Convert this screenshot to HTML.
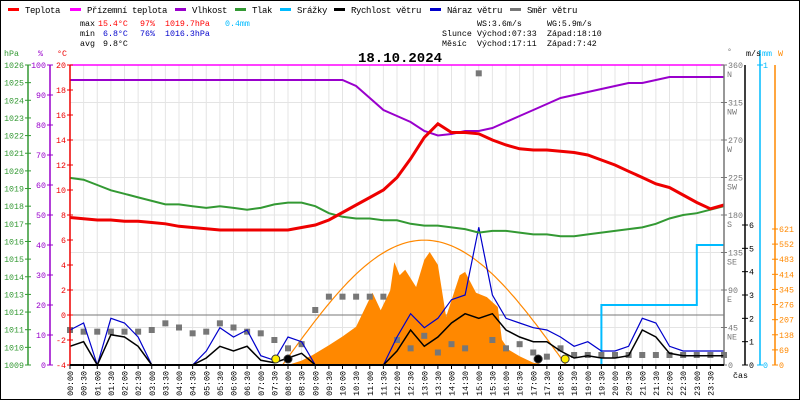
<!DOCTYPE html>
<html><head><meta charset="utf-8"><style>
body{margin:0;background:#fff}
svg{display:block;font-family:"Liberation Mono",monospace}
</style></head><body>
<svg id="c" width="800" height="400" viewBox="0 0 800 400">
<rect x="0.5" y="0.5" width="799" height="399" fill="#fff" stroke="#000"/>
<g id="legend" font-size="9"></g>
<g font-size="8.3">
<text x="80" y="26">max</text><text x="98" y="26" fill="#f00">15.4°C</text><text x="140" y="26" fill="#f00">97%</text><text x="165" y="26" fill="#f00">1019.7hPa</text><text x="225" y="26" fill="#0bf">0.4mm</text>
<text x="80" y="36">min</text><text x="103" y="36" fill="#00c">6.8°C</text><text x="140" y="36" fill="#00c">76%</text><text x="165" y="36" fill="#00c">1016.3hPa</text>
<text x="80" y="46">avg</text><text x="103" y="46">9.8°C</text>
<text x="477" y="26">WS:3.6m/s</text><text x="547" y="26">WG:5.9m/s</text>
<text x="442" y="36">Slunce</text><text x="477" y="36">Východ:07:33</text><text x="547" y="36">Západ:18:10</text>
<text x="442" y="46">Měsíc</text><text x="477" y="46">Východ:17:11</text><text x="547" y="46">Západ:7:42</text>
</g>
<text x="400" y="62" font-size="14" font-weight="bold" text-anchor="middle">18.10.2024</text>
<g id="grid"></g>
<g id="plot"></g>
<g id="axes" font-size="8.3"></g>
</svg>
<script>
const NS="http://www.w3.org/2000/svg";
const hours=[0,0.5,1,1.5,2,2.5,3,3.5,4,4.5,5,5.5,6,6.5,7,7.5,8,8.5,9,9.5,10,10.5,11,11.5,12,12.5,13,13.5,14,14.5,15,15.5,16,16.5,17,17.5,18,18.5,19,19.5,20,20.5,21,21.5,22,22.5,23,23.5,24];
const temperature=[7.8,7.7,7.6,7.6,7.5,7.5,7.4,7.3,7.1,7.0,6.9,6.8,6.8,6.8,6.8,6.8,6.8,7.0,7.2,7.6,8.2,8.8,9.4,10.0,11.0,12.5,14.2,15.3,14.6,14.6,14.5,14.0,13.6,13.3,13.2,13.2,13.1,13.0,12.8,12.4,12.0,11.5,11.0,10.5,10.2,9.6,9.0,8.5,8.8];
const humidity=[95,95,95,95,95,95,95,95,95,95,95,95,95,95,95,95,95,95,95,95,95,93,89,85,83,81,78,76.5,77,78,78,79,81,83,85,87,89,90,91,92,93,94,94,95,96,96,96,96,96];
const pressure=[1019.6,1019.5,1019.2,1018.9,1018.7,1018.5,1018.3,1018.1,1018.1,1018.0,1017.9,1018.0,1017.9,1017.8,1017.9,1018.1,1018.2,1018.2,1018.0,1017.6,1017.4,1017.3,1017.3,1017.2,1017.2,1017.0,1016.9,1016.9,1016.8,1016.7,1016.5,1016.6,1016.6,1016.5,1016.4,1016.4,1016.3,1016.3,1016.4,1016.5,1016.6,1016.7,1016.8,1017.0,1017.3,1017.5,1017.6,1017.8,1018.0];
const solarHours=[0,8.0,8.5,8.9,9.5,10.0,10.5,11.1,11.4,11.75,11.9,12.1,12.3,12.7,13.0,13.2,13.5,13.8,14.3,14.5,14.9,15.3,15.7,15.85,16.1,16.5,17.0,17.5,24];
const solar=[0,0,20,45,90,130,175,330,250,340,470,410,435,356,480,516,457,220,410,425,330,310,265,115,70,40,10,0,0];
const windSpeed=[0.8,1.0,0,1.3,1.2,0.8,0,0,0,0,0.3,0.8,0.6,0.8,0.2,0.1,0.3,0.5,0,0,0,0,0,0,0.6,1.5,0.8,1.2,1.8,2.2,2.0,2.2,1.5,1.2,1.0,1.0,0.6,0.3,0.4,0.3,0.3,0.4,1.5,1.2,0.5,0.4,0.4,0.4,0.4];
const windGust=[1.5,1.8,0,2.0,1.8,1.2,0,0,0,0,0.6,1.6,1.2,1.5,0.4,0.2,1.2,1.0,0,0,0,0,0,0,1.2,2.2,1.6,2.0,2.8,3.0,5.9,3.0,2.0,1.8,1.6,1.5,1.2,0.8,1.0,0.6,0.6,0.8,2.0,1.8,0.8,0.6,0.6,0.6,0.6];
const windDir=[42,40,40,40,40,40,42,50,45,38,40,50,45,40,38,30,20,25,66,82,82,82,82,82,30,20,35,15,25,20,350,30,20,25,15,10,20,12,12,12,12,12,12,12,12,12,12,12,12];
const rainHours=[0,19.5,19.5,23,23,24];
const rainMm=[0,0,0.2,0.2,0.4,0.4];
const solarTheoryPeak=570, sunUp=7.8, sunDown=18.2;
const tempTicks=[-4,-2,0,2,4,6,8,10,12,14,16,18,20];
const humTicks=[0,10,20,30,40,50,60,70,80,90,100];
const presTicks=[1009,1010,1011,1012,1013,1014,1015,1016,1017,1018,1019,1020,1021,1022,1023,1024,1025,1026];
const dirTicks=[0,45,90,135,180,225,270,315,360];
const dirNames=["","NE","E","SE","S","SW","W","NW","N"];
const msTicks=[0,1,2,3,4,5,6];
const wTicks=[0,69,138,207,276,345,414,483,552,621];

const X0=70,X1=724,YT=65,YB=365;
const xs=h=>X0+h*(X1-X0)/24;
const yT=t=>YB-(t+4)*(YB-YT)/24;
const yH=v=>YB-v*(YB-YT)/100;
const yP=p=>YB-(p-1009)*(YB-YT)/17;
const yD=d=>YB-d*(YB-YT)/360;
const yMs=v=>YB-v*(140/6);
const yW=v=>YB-v*(136/621);
const yMm=v=>YB-v*(YB-YT);

function el(tag,attrs,parent){const e=document.createElementNS(NS,tag);for(const k in attrs)e.setAttribute(k,attrs[k]);parent.appendChild(e);return e;}
const grid=document.getElementById('grid'),plot=document.getElementById('plot'),axes=document.getElementById('axes'),legend=document.getElementById('legend');

const leg=[["Teplota","#f00",8],["Přízemní teplota","#f0f",70],["Vlhkost","#90c",175],["Tlak","#393",235],["Srážky","#0bf",280],["Rychlost větru","#000",334],["Náraz větru","#00c",430],["Směr větru","#777",510]];
leg.forEach(l=>{
  const g=el('g',{},legend);
  
  
  el('rect',{x:l[2],y:8,width:11,height:3,fill:l[1]},g);
  const t=el('text',{x:l[2]+17,y:13,"letter-spacing":"-0.4"},g);t.textContent=l[0];
});

for(let i=0;i<=48;i++){const x=xs(i/2);el('line',{x1:x,x2:x,y1:YT,y2:YB,stroke:'#e4e4e4'},grid);}
for(let k=0;k<=8;k++){const y=YT+k*37.5;el('line',{x1:X0,x2:X1,y1:y,y2:y,stroke:'#e4e4e4'},grid);}
el('line',{x1:X0,x2:X1,y1:yT(0),y2:yT(0),stroke:'#777'},grid);
el('line',{x1:X0,x2:X1,y1:YT,y2:YT,stroke:'#f0f',"stroke-width":1.5},grid);

function path(xv,vals,yf,color,w,name){
  let d='';vals.forEach((v,i)=>{d+=(i?'L':'M')+xs(xv[i]).toFixed(1)+' '+yf(v).toFixed(1);});
  const p=el('path',{d:d,fill:'none',stroke:color,"stroke-width":w},plot);
  
  
}
{let d='M'+xs(0)+' '+YB;solar.forEach((v,i)=>{d+='L'+xs(solarHours[i]).toFixed(1)+' '+yW(v).toFixed(1);});d+='L'+xs(24)+' '+YB+'Z';
const p=el('path',{d:d,fill:'#f80'},plot);

}
{let d='';for(let h=sunUp;h<=sunDown+0.001;h+=0.1){const v=solarTheoryPeak*Math.sin(Math.PI*(h-sunUp)/(sunDown-sunUp));d+=(d?'L':'M')+xs(h).toFixed(1)+' '+yW(v).toFixed(1);}
const p=el('path',{d:d,fill:'none',stroke:'#f80',"stroke-width":1.2},plot);

}
{let d='';rainHours.forEach((h,i)=>{d+=(i?'L':'M')+xs(h).toFixed(1)+' '+yMm(rainMm[i]).toFixed(1);});
const p=el('path',{d:d,fill:'none',stroke:'#0bf',"stroke-width":2},plot);

}
windDir.forEach((d,i)=>{
  const r=el('rect',{x:xs(hours[i])-3,y:yD(d)-3,width:6,height:6,fill:'#777'},plot);
  
  
});
path(hours,windGust,yMs,'#00c',1.2,'wind-gust-line');
path(hours,windSpeed,yMs,'#000',1.5,'wind-speed-line');
path(hours,pressure,yP,'#393',2,'pressure-line');
path(hours,humidity,yH,'#90c',2,'humidity-line');
path(hours,temperature,yT,'#e00',3,'temperature-line');
[[7.55,'#fe0'],[8.0,'#000'],[17.18,'#000'],[18.17,'#fe0']].forEach(m=>{
  const c=el('circle',{cx:xs(m[0]),cy:359,r:4,fill:m[1],stroke:'#333'},plot);
  
  
});

function vaxis(x,color,ticks,yf,side,name){
  const g=el('g',{fill:color},axes);
  
  
  el('line',{x1:x,x2:x,y1:YT,y2:YB,stroke:color,"stroke-width":1.5},g);
  ticks.forEach(t=>{const y=yf(t);el('line',{x1:x-3,x2:x+3,y1:y,y2:y,stroke:color},g);
    const s=el('text',{x:side<0?x-4:x+4,y:y+3,"text-anchor":side<0?'end':'start'},g);s.textContent=t;});
}
vaxis(X0,'#e00',tempTicks,yT,-1,'temperature-axis');
vaxis(50,'#90c',humTicks,yH,-1,'humidity-axis');
vaxis(28,'#393',presTicks,yP,-1,'pressure-axis');
vaxis(X1,'#777',dirTicks,yD,1,'direction-axis');
dirTicks.forEach((t,i)=>{if(dirNames[i]){const s=el('text',{x:X1+3,y:yD(t)+12,fill:'#777'},axes);s.textContent=dirNames[i];}});
vaxis(745,'#000',msTicks,yMs,1,'wind-speed-axis');
{const g=el('g',{fill:'#0bf'},axes);el('line',{x1:760,x2:760,y1:50,y2:YB,stroke:'#0bf',"stroke-width":1.5},g);
[0,1].forEach(t=>{el('line',{x1:757,x2:763,y1:yMm(t),y2:yMm(t),stroke:'#0bf'},g);const s=el('text',{x:763,y:yMm(t)+3},g);s.textContent=t;});}
vaxis(775,'#f80',wTicks,yW,1,'solar-axis');
[["hPa",4,56,'#393'],["%",38,56,'#90c'],["°C",57,56,'#e00'],["°",727,54,'#777'],["m/s",746,56,'#000'],["mm",762,56,'#0bf'],["W",778,56,'#f80']].forEach(u=>{const s=el('text',{x:u[1],y:u[2],fill:u[3]},axes);s.textContent=u[0];});
for(let i=0;i<48;i++){const h=i/2,x=xs(h);
  el('line',{x1:x,x2:x,y1:YB,y2:YB+4,stroke:'#000'},axes);
  const lab=String(Math.floor(h)).padStart(2,'0')+':'+(i%2?'30':'00');
  const s=el('text',{x:0,y:0,transform:`translate(${x+3},371) rotate(-90)`,"text-anchor":"end","font-size":"8.3"},axes);s.textContent=lab;}
el('line',{x1:X0,x2:X1,y1:YB,y2:YB,stroke:'#000',"stroke-width":2},axes);
{const s=el('text',{x:733,y:378},axes);s.textContent='čas';}
</script>
</body></html>
